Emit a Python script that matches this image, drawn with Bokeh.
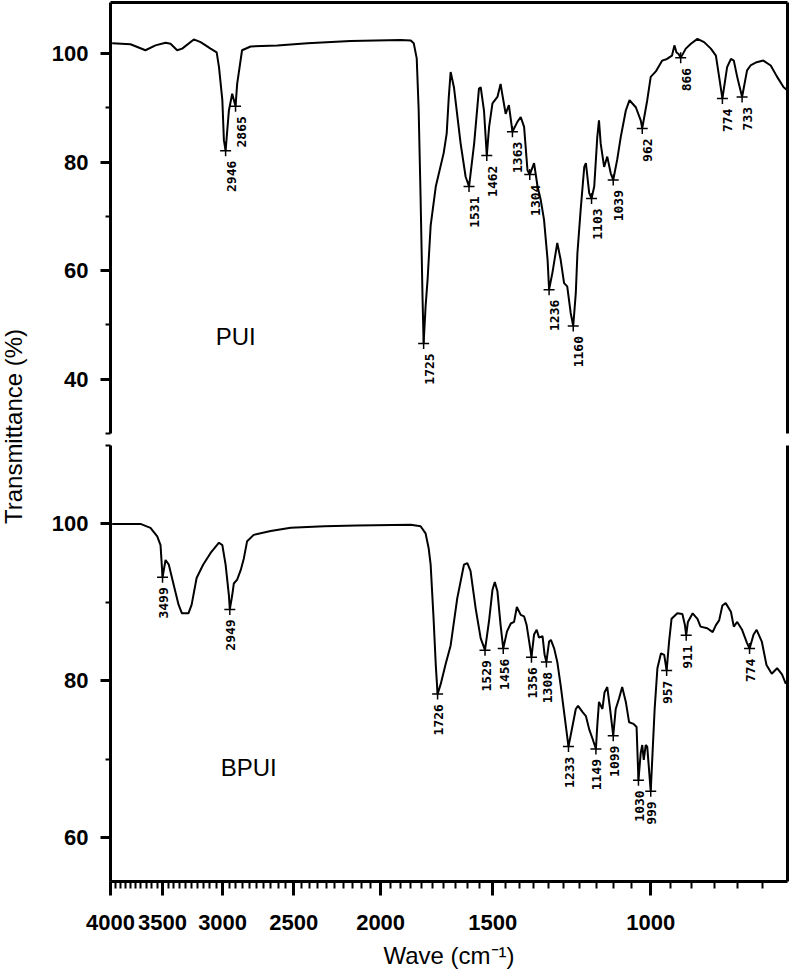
from math import pi
from bokeh.plotting import figure
from bokeh.models import (Range1d, FixedTicker, NumeralTickFormatter, LinearAxis,
                          LogAxis, Label)
from bokeh.layouts import row, column
from bokeh.core.properties import value
from bokeh.embed import file_html
from bokeh.resources import INLINE

# ---------------- data (wavenumber cm-1, transmittance %) ----------------
pui_points = [
    (3983, 101.9), (3800, 101.7), (3657, 100.6), (3564, 101.5), (3473, 102.0),
    (3429, 101.8), (3371, 100.6), (3328, 100.9), (3230, 102.6), (3174, 102.1),
    (3094, 100.9), (3046, 100.2), (3028, 97.5), (3002, 91.4), (2990, 84.0),
    (2977, 82.1), (2952, 89.5), (2927, 92.6), (2902, 90.3), (2890, 94.4),
    (2854, 100.6), (2792, 101.3), (2607, 101.5), (2413, 101.9), (2160, 102.3),
    (1900, 102.5), (1851, 102.4), (1837, 101.9), (1823, 99.1), (1814, 89.7),
    (1805, 73.4), (1796, 55.0), (1791, 46.6), (1782, 53.4), (1773, 58.3),
    (1759, 68.3), (1736, 75.5), (1701, 81.7), (1688, 85.3), (1679, 92.0),
    (1671, 96.6), (1657, 93.8), (1629, 83.5), (1608, 77.3), (1594, 75.5),
    (1573, 83.5), (1554, 93.5), (1547, 93.8), (1534, 89.5), (1523, 81.2),
    (1514, 86.5), (1501, 90.8), (1482, 92.0), (1470, 94.4), (1464, 92.6),
    (1451, 88.9), (1439, 90.5), (1426, 85.6), (1408, 87.4), (1396, 88.3),
    (1384, 86.5), (1372, 78.5), (1364, 77.7), (1349, 79.8), (1337, 75.5),
    (1326, 73.0), (1315, 69.4), (1303, 62.0), (1298, 56.5), (1287, 59.6),
    (1271, 65.1), (1260, 62.0), (1249, 57.7), (1239, 57.1), (1228, 52.2),
    (1220, 49.8), (1212, 55.9), (1207, 63.2), (1197, 71.2), (1186, 79.1),
    (1181, 79.8), (1171, 74.3), (1164, 73.3), (1156, 75.5), (1147, 84.6),
    (1142, 87.7), (1137, 83.4), (1127, 79.1), (1118, 81.0), (1108, 77.9),
    (1101, 76.7), (1090, 80.4), (1080, 84.6), (1066, 89.5), (1056, 91.4),
    (1039, 90.1), (1026, 87.7), (1022, 86.2), (1009, 91.4), (1000, 95.7),
    (987, 96.7), (971, 98.7), (959, 99.0), (947, 99.6), (941, 101.5),
    (936, 100.2), (931, 99.9), (926, 99.2), (914, 100.9), (902, 101.8),
    (887, 102.7), (872, 102.1), (857, 100.9), (846, 99.6), (839, 95.7),
    (832, 91.7), (822, 97.5), (814, 99.0), (808, 98.7), (801, 95.7),
    (791, 92.0), (781, 96.9), (774, 97.8), (762, 98.4), (749, 98.7),
    (735, 97.8), (723, 95.7), (711, 93.8), (705, 93.3),
]
pui_peak_wn = [2977, 2902, 1791, 1594, 1523, 1426, 1364, 1298, 1220, 1164, 1101, 1022, 926, 832, 791]
pui_peak_t = [82.1, 90.3, 46.6, 75.5, 81.2, 85.6, 77.7, 56.5, 49.8, 73.3, 76.7, 86.2, 99.2, 91.7, 92.0]
pui_peak_labels = ["2946", "2865", "1725", "1531", "1462", "1363", "1304", "1236",
                   "1160", "1103", "1039", "962", "866", "774", "733"]

bpui_points = [
    (3983, 100.0), (3704, 100.0), (3610, 99.5), (3548, 98.4), (3518, 97.3),
    (3500, 93.2), (3473, 95.4), (3444, 94.8), (3401, 92.2), (3359, 89.7),
    (3330, 88.6), (3275, 88.6), (3248, 89.7), (3207, 93.1), (3154, 94.8),
    (3094, 96.3), (3028, 97.6), (3002, 97.3), (2977, 94.8), (2952, 90.9),
    (2945, 89.1), (2927, 90.9), (2915, 92.4), (2890, 92.9), (2864, 94.1),
    (2841, 95.6), (2817, 97.8), (2770, 98.6), (2652, 99.1), (2519, 99.5),
    (2311, 99.7), (2128, 99.8), (1851, 99.9), (1805, 99.7), (1782, 98.8),
    (1768, 96.9), (1759, 94.8), (1746, 88.0), (1736, 82.0), (1728, 78.3),
    (1714, 79.6), (1692, 82.2), (1671, 84.5), (1643, 90.5), (1615, 94.8),
    (1601, 95.0), (1588, 94.0), (1567, 89.2), (1547, 85.4), (1530, 83.9),
    (1514, 87.7), (1501, 91.6), (1492, 92.6), (1482, 91.4), (1470, 87.1),
    (1460, 84.1), (1446, 86.3), (1432, 87.3), (1420, 87.5), (1410, 89.4),
    (1396, 88.4), (1384, 88.2), (1375, 87.1), (1366, 85.0), (1358, 83.0),
    (1349, 85.9), (1340, 86.5), (1332, 85.5), (1320, 85.7), (1313, 83.3),
    (1307, 82.4), (1298, 85.0), (1292, 85.2), (1281, 84.1), (1271, 82.4),
    (1260, 79.4), (1249, 76.0), (1235, 71.6), (1222, 74.3), (1212, 76.4),
    (1205, 76.8), (1191, 76.0), (1181, 75.5), (1171, 73.8), (1161, 72.6),
    (1151, 71.3), (1147, 74.3), (1142, 77.3), (1132, 76.4), (1126, 78.5),
    (1118, 79.2), (1111, 76.8), (1101, 73.0), (1094, 76.4), (1085, 77.7),
    (1076, 79.2), (1066, 77.3), (1057, 74.7), (1045, 74.5), (1037, 74.1),
    (1032, 67.3), (1026, 70.8), (1022, 71.8), (1018, 69.9), (1013, 71.8),
    (1009, 71.6), (1000, 65.9), (996, 70.1), (990, 76.4), (983, 81.6),
    (974, 83.5), (966, 83.3), (960, 81.3), (954, 85.0), (948, 87.9),
    (934, 88.6), (922, 88.5), (916, 87.1), (913, 85.8), (909, 87.5),
    (898, 88.6), (887, 87.9), (880, 86.9), (865, 86.7), (853, 86.2),
    (846, 87.1), (839, 87.7), (832, 89.6), (825, 89.9), (814, 88.8),
    (808, 86.9), (801, 87.5), (791, 86.5), (781, 84.8), (776, 84.1),
    (768, 85.9), (762, 86.5), (752, 85.0), (743, 82.0), (733, 80.9),
    (723, 81.6), (714, 80.8), (707, 79.6),
]
bpui_peak_wn = [3500, 2945, 1728, 1530, 1460, 1358, 1307, 1235, 1151, 1101, 1032, 1000, 960, 913, 776]
bpui_peak_t = [93.2, 89.1, 78.3, 83.9, 84.1, 83.0, 82.4, 71.6, 71.3, 73.0, 67.3, 65.9, 81.3, 85.8, 84.1]
bpui_peak_labels = ["3499", "2949", "1726", "1529", "1456", "1356", "1308", "1233",
                    "1149", "1099", "1030", "999", "957", "911", "774"]

x_major_ticks = [4000, 3500, 3000, 2500, 2000, 1500, 1000]
x_minor_ticks = list(range(4000, 700, -50))
pui_y_ticks, pui_y_minor = [40, 60, 80, 100], [30, 50, 70, 90]
bpui_y_ticks, bpui_y_minor = [60, 80, 100], [70, 90, 110]

# ---------------- styling helpers ----------------
TICK_FONT = "Liberation Sans"
LABEL_FONT = "Liberation Sans"
PEAK_FONT = "DejaVu Sans Mono"


def style_y(ax, ticks, minor):
    ax.ticker = FixedTicker(ticks=ticks, minor_ticks=minor)
    ax.axis_line_width = 3
    ax.axis_line_color = "black"
    ax.major_tick_line_width = 3
    ax.minor_tick_line_width = 2
    ax.major_tick_line_color = "black"
    ax.minor_tick_line_color = "black"
    ax.major_tick_in = 0
    ax.major_tick_out = 10
    ax.minor_tick_in = 0
    ax.minor_tick_out = 5
    ax.major_label_text_font = TICK_FONT
    ax.major_label_text_font_style = "bold"
    ax.major_label_text_font_size = "22px"
    ax.major_label_text_color = "black"
    ax.major_label_standoff = 12


def border_axis(cls):
    return cls(ticker=FixedTicker(ticks=[]), axis_line_width=3, axis_line_color="black",
               major_tick_in=0, major_tick_out=0, minor_tick_in=0, minor_tick_out=0,
               major_label_standoff=0, axis_label_standoff=0)


x_range = Range1d(4000, 704)

common = dict(width=748, x_axis_type="log", x_range=x_range, toolbar_location=None,
              output_backend="svg", min_border_left=68, min_border_right=3,
              background_fill_color="white", border_fill_color="white")

# ---------------- top panel (PUI) ----------------
top = figure(height=443, y_range=Range1d(30, 109.4), x_axis_location=None,
             min_border_top=2, min_border_bottom=10, **common)
top.outline_line_color = None
top.grid.visible = False
style_y(top.yaxis[0], pui_y_ticks, pui_y_minor)
top.add_layout(border_axis(LogAxis), "above")
top.add_layout(border_axis(LinearAxis), "right")

top.line([p[0] for p in pui_points], [p[1] for p in pui_points],
         line_color="black", line_width=2)
top.scatter(pui_peak_wn, pui_peak_t, marker="cross", size=11,
            line_color="black", line_width=1.5)
top.text(pui_peak_wn, pui_peak_t, text=pui_peak_labels, angle=pi / 2,
         text_align="right", text_baseline="top", x_offset=1, y_offset=10,
         text_font=value(PEAK_FONT), text_font_style="bold",
         text_font_size="13px", text_color="black")
top.add_layout(Label(x=3054, y=47.9, text="PUI", text_align="left",
                     text_baseline="middle", text_font=LABEL_FONT,
                     text_font_size="24px", text_color="black"))

# ---------------- bottom panel (BPUI) ----------------
bot = figure(height=528, y_range=Range1d(54.4, 110),
             min_border_top=2, min_border_bottom=90, **common)
bot.outline_line_color = None
bot.grid.visible = False
style_y(bot.yaxis[0], bpui_y_ticks, bpui_y_minor)
xa = bot.xaxis[0]
xa.ticker = FixedTicker(ticks=x_major_ticks, minor_ticks=x_minor_ticks)
xa.formatter = NumeralTickFormatter(format="0")
xa.axis_line_width = 3
xa.axis_line_color = "black"
xa.major_tick_line_width = 3
xa.minor_tick_line_width = 2
xa.major_tick_line_color = "black"
xa.minor_tick_line_color = "black"
xa.major_tick_in = 0
xa.major_tick_out = 14
xa.minor_tick_in = 0
xa.minor_tick_out = 7
xa.major_label_text_font = TICK_FONT
xa.major_label_text_font_style = "bold"
xa.major_label_text_font_size = "22px"
xa.major_label_text_color = "black"
xa.major_label_standoff = 19
xa.axis_label = "Wave (cm\u207b\u00b9)"
xa.axis_label_text_font = LABEL_FONT
xa.axis_label_text_font_style = "normal"
xa.axis_label_text_font_size = "24px"
xa.axis_label_text_color = "black"
xa.axis_label_standoff = 9
bot.add_layout(border_axis(LinearAxis), "right")

bot.line([p[0] for p in bpui_points], [p[1] for p in bpui_points],
         line_color="black", line_width=2)
bot.scatter(bpui_peak_wn, bpui_peak_t, marker="cross", size=11,
            line_color="black", line_width=1.5)
bot.text(bpui_peak_wn, bpui_peak_t, text=bpui_peak_labels, angle=pi / 2,
         text_align="right", text_baseline="middle", x_offset=1, y_offset=10,
         text_font=value(PEAK_FONT), text_font_style="bold",
         text_font_size="13px", text_color="black")
bot.add_layout(Label(x=3015, y=69.0, text="BPUI", text_align="left",
                     text_baseline="middle", text_font=LABEL_FONT,
                     text_font_size="24px", text_color="black"))

# ---------------- shared y-axis title ----------------
lab = figure(width=42, height=971, x_range=Range1d(0, 42), y_range=Range1d(971, 0),
             toolbar_location=None, output_backend="svg", x_axis_location=None,
             y_axis_location=None, min_border=0, outline_line_color=None,
             background_fill_color="white", border_fill_color="white")
lab.grid.visible = False
lab.add_layout(Label(x=13, y=426, text="Transmittance (%)", angle=pi / 2,
                     text_align="center", text_baseline="middle",
                     text_font=LABEL_FONT, text_font_size="24px",
                     text_color="black"))

layout = row(lab, column(top, bot))
open("out.html", "w").write(file_html(layout, INLINE))
